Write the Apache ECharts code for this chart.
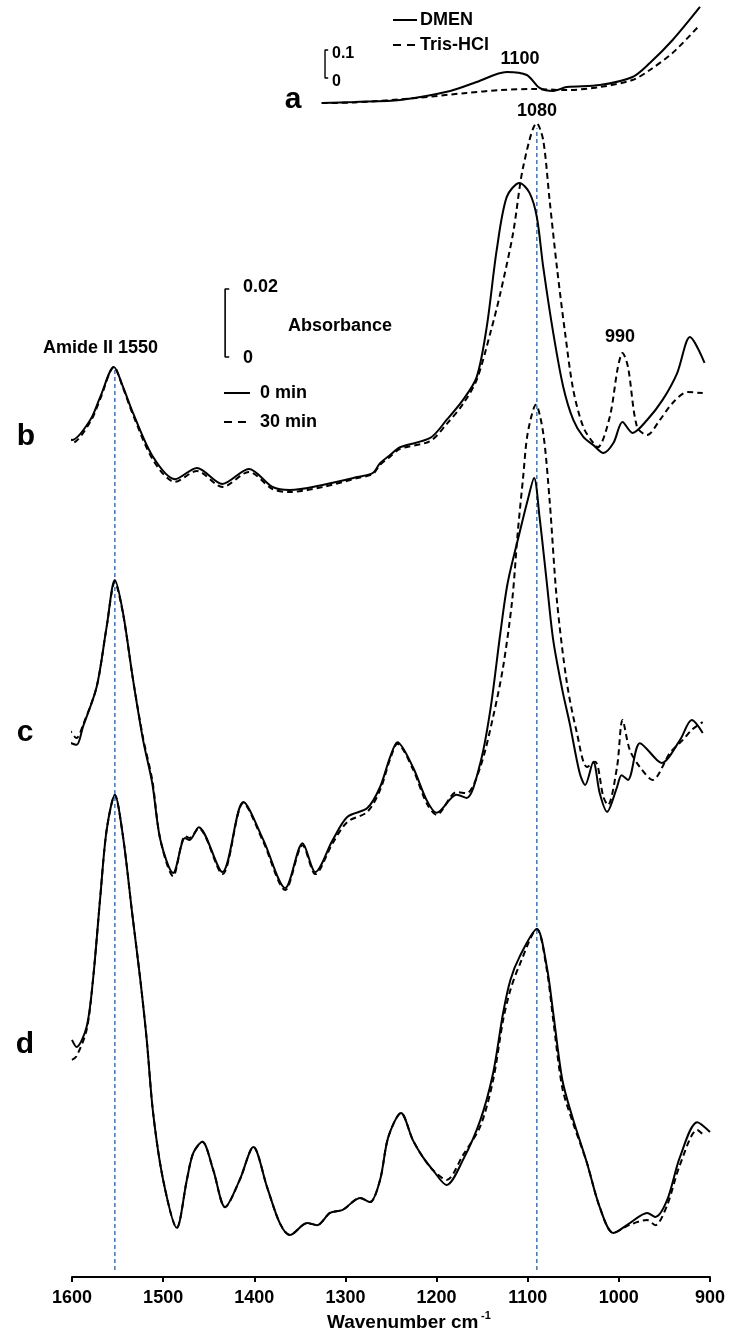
<!DOCTYPE html>
<html><head><meta charset="utf-8">
<script src="https://cdn.jsdelivr.net/npm/echarts/dist/echarts.min.js"></script>
<style>html,body{margin:0;padding:0;background:#fff}#c{width:733px;height:1335px}</style>
</head><body><div id="c"></div>
<script>
// ---- data (wavenumber cm-1, absorbance) ----
// spectrum a: absorbance (A)
const aDMEN = [[1326,0],[1290,0.004],[1240,0.011],[1185,0.043],[1156,0.075],[1123,0.111],[1101,0.100],[1087,0.054],[1072,0.043],[1057,0.057],[1021,0.064],[985,0.093],[966,0.143],[941,0.225],[911,0.343]];
const aTris = [[1326,0],[1290,0.002],[1222,0.018],[1167,0.036],[1130,0.046],[1094,0.050],[1057,0.046],[1021,0.057],[985,0.082],[966,0.118],[941,0.179],[911,0.279]];
// spectra b, c, d: absorbance in mAU (x1e-3) above each trace's own baseline
const b0min = [[1606,16.2],[1600,14.7],[1580,20.6],[1569,27.4],[1554,36.2],[1544,30.3],[1533,22.6],[1511,9.7],[1487,3.2],[1463,6.5],[1435,1.8],[1406,6.2],[1380,0.9],[1361,0],[1325,1.5],[1287,3.8],[1270,5.0],[1262,7.9],[1251,10.3],[1240,12.6],[1207,15.3],[1189,20.6],[1171,26.5],[1156,33.2],[1145,47.9],[1134,70.6],[1123,86.2],[1109,90.3],[1098,87.4],[1090,80.3],[1083,65.6],[1072,46.2],[1061,30.3],[1050,20.6],[1039,15.6],[1028,13.2],[1017,10.9],[1006,13.8],[996,20.0],[985,16.8],[969,20.6],[952,26.5],[936,34.4],[922,45.0],[906,37.4]];
const b30min = [[1606,15.3],[1600,13.8],[1580,20.0],[1569,26.8],[1554,36.2],[1544,30.0],[1533,22.1],[1511,8.8],[1487,2.4],[1463,5.6],[1435,0.9],[1406,5.3],[1380,0.3],[1361,-0.6],[1325,0.9],[1287,3.5],[1270,4.7],[1262,7.4],[1251,9.8],[1240,12.1],[1207,14.4],[1189,19.4],[1171,25.3],[1156,32.4],[1141,46.2],[1130,57.9],[1116,75.6],[1105,95.0],[1090,107.9],[1083,102.9],[1076,85.3],[1068,65.6],[1059,46.2],[1050,29.4],[1039,18.5],[1028,13.8],[1023,12.6],[1010,21.5],[1001,36.2],[996,40.3],[990,36.2],[980,18.5],[969,16.2],[955,20.6],[941,25.6],[925,28.8],[908,28.5]];
const c0min = [[1604,42.9],[1595,42.1],[1588,47.4],[1573,59.1],[1562,76.8],[1553,90.6],[1544,80.9],[1533,61.2],[1522,43.5],[1512,30.9],[1503,14.1],[1489,4.4],[1476,14.7],[1471,14.1],[1461,17.9],[1435,4.7],[1412,25.3],[1390,14.1],[1366,0],[1347,13.2],[1333,4.7],[1314,14.1],[1298,20.9],[1276,23.5],[1262,29.7],[1251,38.5],[1243,42.9],[1226,35.6],[1211,25.9],[1200,22.1],[1178,27.4],[1167,26.5],[1152,36.8],[1141,52.4],[1130,75.0],[1122,89.7],[1109,104.4],[1100,114.1],[1093,120.6],[1087,109.1],[1079,89.7],[1072,72.9],[1062,58.2],[1054,48.5],[1043,33.8],[1037,30.3],[1028,37.1],[1021,27.9],[1013,22.4],[1002,29.7],[997,33.2],[990,31.8],[977,42.6],[958,37.6],[953,36.8],[933,43.5],[920,49.4],[908,45.6]];
const c30min = [[1604,47.1],[1595,44.1],[1588,47.9],[1573,59.1],[1562,76.8],[1553,90.0],[1544,80.6],[1533,61.2],[1522,44.1],[1512,31.8],[1503,14.1],[1489,3.5],[1476,15.3],[1471,14.7],[1461,17.6],[1435,4.1],[1412,25.0],[1390,13.5],[1366,-0.6],[1347,12.6],[1333,4.1],[1314,13.2],[1298,19.4],[1276,22.4],[1262,28.8],[1251,37.9],[1243,42.4],[1226,35.0],[1211,25.0],[1200,21.5],[1178,28.2],[1167,27.9],[1152,35.6],[1138,50.3],[1127,65.0],[1117,84.7],[1111,104.4],[1105,120.9],[1100,133.8],[1091,142.1],[1083,133.8],[1076,114.1],[1068,84.7],[1057,60.3],[1046,45.6],[1035,35.6],[1026,37.1],[1017,26.8],[1012,24.4],[1002,35.6],[996,49.4],[988,40.6],[977,35.6],[963,31.8],[944,39.7],[930,43.5],[920,46.5],[908,48.8]];
const d0min = [[1600,57.4],[1595,55.3],[1584,61.2],[1577,75.0],[1569,99.4],[1562,119.1],[1553,129.4],[1544,117.1],[1534,94.7],[1525,75.0],[1518,57.4],[1511,35.9],[1500,16.2],[1485,2.1],[1474,16.2],[1467,24.1],[1457,27.4],[1445,19.1],[1432,8.2],[1416,16.2],[1401,25.9],[1386,14.1],[1372,3.5],[1361,0],[1342,3.5],[1331,2.9],[1317,6.5],[1303,7.4],[1284,10.9],[1273,9.7],[1262,16.2],[1253,28.8],[1239,35.9],[1226,27.9],[1215,22.9],[1204,19.1],[1189,14.7],[1171,22.1],[1152,33.8],[1138,47.6],[1127,65.3],[1119,75.0],[1109,81.8],[1090,90.0],[1079,78.8],[1072,65.3],[1062,45.6],[1051,34.7],[1035,21.2],[1021,8.2],[1006,0.6],[988,3.5],[969,6.5],[960,5.3],[947,10.3],[933,22.9],[914,33.2],[900,30.3]];
const d30min = [[1600,51.5],[1595,52.6],[1584,60.3],[1577,75.0],[1569,99.4],[1562,119.1],[1553,129.4],[1544,117.1],[1534,94.7],[1525,75.0],[1518,57.4],[1511,35.9],[1500,16.2],[1485,2.1],[1474,16.2],[1467,24.1],[1457,27.4],[1445,19.1],[1432,8.2],[1416,16.2],[1401,25.9],[1386,14.1],[1372,3.5],[1361,0],[1342,3.5],[1331,2.9],[1317,6.5],[1303,7.4],[1284,10.9],[1273,9.7],[1262,16.2],[1253,28.8],[1239,35.9],[1226,27.9],[1215,22.9],[1204,19.1],[1189,16.2],[1171,23.5],[1152,32.0],[1138,45.5],[1127,63.2],[1119,72.1],[1109,79.4],[1090,90.0],[1079,77.9],[1072,63.2],[1062,43.2],[1051,33.5],[1035,21.2],[1021,8.2],[1006,0.6],[988,3.0],[969,4.4],[960,2.9],[947,8.8],[933,20.6],[914,30.9],[907,29.4]];
// x axis
const xTicks = [1600,1500,1400,1300,1200,1100,1000,900];
// reference band positions (cm-1)
const bandLines = [1553, 1090];
// scale bars
const scaleBarBCD = 20;    // 0.02 absorbance in mAU
const scaleBarA = 0.1;     // absorbance

// ---- layout constants (stacking of traces) ----
const offB = 231.47, offC = 114.41, offD = 12.35;   // mAU baseline of each trace
const Y0MAX = 375.59;                                // mAU over the plot height
const Y1MIN = -4.19286, Y1MAX = 0.36786;             // absorbance axis for trace a
const bandTop = [267.6, 337.9], bandBottom = 2.06;
const barBCD = {x: 1432, tick: 4.5, base: 270.6};
const barA = {x: 1322.4, tick: 3.5, base: 0.0893};

const shift = (arr, off) => arr.map(p => [p[0], p[1] + off]);
const FONT = "'Liberation Sans', Arial, sans-serif";
const DASH = [6, 4];

function line(data, dashed, yIdx, extra) {
  return Object.assign({
    type: 'line', data: data, yAxisIndex: yIdx || 0, symbol: 'none', smooth: 0.3,
    silent: true, animation: false, clip: false,
    lineStyle: {color: '#000', width: 2, type: dashed ? DASH : 'solid'}
  }, extra || {});
}

const series = [];
bandLines.forEach((w, i) => {
  series.push({type: 'line', data: [[w, bandBottom], [w, bandTop[i]]], symbol: 'none', silent: true,
    animation: false, lineStyle: {color: '#3f7fd4', width: 1.6, type: [4, 3]}, z: 1});
});
series.push(line(aTris, true, 1));
series.push(line(aDMEN, false, 1));
series.push(line(shift(b0min, offB), false));
series.push(line(shift(b30min, offB), true));
series.push(line(shift(c0min, offC), false));
series.push(line(shift(c30min, offC), true));
series.push(line(shift(d0min, offD), false));
series.push(line(shift(d30min, offD), true));
// scale bars (bracket shape)
series.push({type: 'line', symbol: 'none', silent: true, animation: false, smooth: false,
  lineStyle: {color: '#000', width: 1.6},
  data: [[barBCD.x - barBCD.tick, barBCD.base], [barBCD.x, barBCD.base], [barBCD.x, barBCD.base + scaleBarBCD], [barBCD.x - barBCD.tick, barBCD.base + scaleBarBCD]]});
series.push({type: 'line', symbol: 'none', silent: true, animation: false, smooth: false, yAxisIndex: 1,
  lineStyle: {color: '#000', width: 1.4},
  data: [[barA.x - barA.tick, barA.base], [barA.x, barA.base], [barA.x, barA.base + scaleBarA], [barA.x - barA.tick, barA.base + scaleBarA]]});

function seg(x1, x2, y, dashed) {
  return {type: 'line', silent: true, shape: {x1: x1, y1: y, x2: x2, y2: y},
    style: {stroke: '#000', lineWidth: 2, lineDash: dashed ? [8, 6] : null}};
}
function t(s, x, y, size, align) {
  return {type: 'text', silent: true, style: {text: s, x: x, y: y, fill: '#000',
    font: 'bold ' + size + 'px ' + FONT, textAlign: align || 'left', textVerticalAlign: 'middle'}};
}

const chart = echarts.init(document.getElementById('c'), null, {renderer: 'canvas'});
chart.setOption({
  backgroundColor: '#fff',
  animation: false,
  grid: {left: 72, right: 23, top: 0, bottom: 58},
  xAxis: {type: 'value', min: 900, max: 1600, interval: 100, inverse: true,
    splitLine: {show: false},
    axisLine: {lineStyle: {color: '#000', width: 2}},
    axisTick: {length: 5, lineStyle: {color: '#000', width: 2}},
    axisLabel: {color: '#000', fontSize: 18, fontWeight: 'bold', fontFamily: FONT, margin: 12,
      showMinLabel: true, showMaxLabel: true,
      formatter: v => xTicks.indexOf(v) >= 0 ? String(v) : ''}},
  yAxis: [
    {type: 'value', min: 0, max: Y0MAX, show: false, splitLine: {show: false}},
    {type: 'value', min: Y1MIN, max: Y1MAX, show: false, splitLine: {show: false}}
  ],
  series: series,
  graphic: [
    t('a', 293, 100, 30, 'center'),
    t('b', 26, 437, 30, 'center'),
    t('c', 25, 733, 30, 'center'),
    t('d', 25, 1045, 30, 'center'),
    t('DMEN', 420, 20, 18),
    t('Tris-HCl', 420, 45, 18),
    seg(393, 417, 20, false),
    seg(393, 417, 45, true),
    t('0.1', 332, 54, 16),
    t('0', 332, 82, 16),
    t('1100', 520, 59, 18, 'center'),
    t('1080', 537, 111, 18, 'center'),
    t('990', 620, 337, 18, 'center'),
    t('Amide II 1550', 43, 348, 18),
    t('0.02', 243, 287, 18),
    t('0', 243, 358, 18),
    t('Absorbance', 288, 326, 18),
    seg(224, 250, 393, false),
    seg(224, 250, 422, true),
    t('0 min', 260, 393, 18),
    t('30 min', 260, 422, 18),
    t('Wavenumber cm', 327, 1323, 19),
    t('-1', 481, 1316, 11)
  ]
});
</script>
</body></html>
